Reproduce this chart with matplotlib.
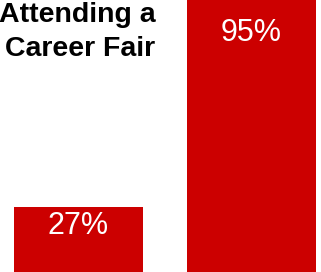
import matplotlib
matplotlib.use('Agg')
import matplotlib.pyplot as plt
import numpy as np

# 数据
title_lines = ['Attending a', 'Career Fair']
values = [27, 95]
labels = ['27%', '95%']

red = '#cc0000'

fig = plt.figure(figsize=(3.21, 2.72), dpi=100)
ax = fig.add_axes([0, 0, 1, 1])

x = np.arange(len(values))
bar_width = 0.746
ax.bar(x, values, width=bar_width, color=red)

ax.set_xlim(-0.4538, 1.4017)
ymin, ymax = 5.65, 95
ax.set_ylim(ymin, ymax)

# 百分比标签
for xi, v, lab in zip(x, values, labels):
    top = min(v, ymax)
    y = top - 0.068 * (top - ymin)
    ax.text(xi, y, lab, ha='center', va='top', color='white',
            fontsize=22, family='Liberation Sans')

# 左上标题（两行，按基线放置）
for line, yb in zip(title_lines, [0.919, 0.794]):
    ax.text(0.484, yb, line, transform=ax.transAxes, ha='right', va='baseline',
            fontsize=20.5, fontweight='bold', family='Liberation Sans')

ax.axis('off')
fig.savefig('out.png', dpi=100)
